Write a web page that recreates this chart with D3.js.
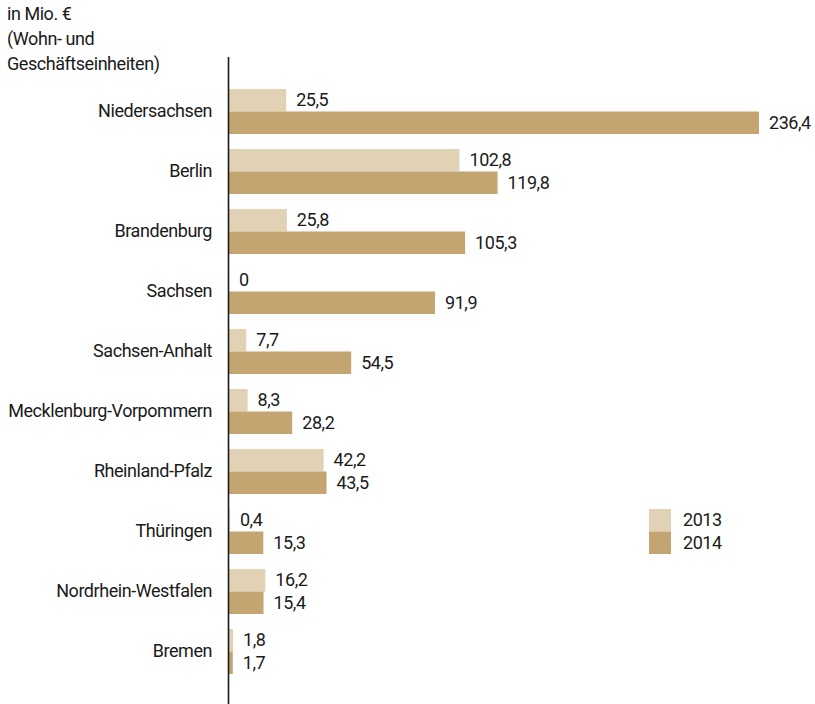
<!DOCTYPE html>
<html>
<head>
<meta charset="utf-8">
<script src="https://cdn.jsdelivr.net/npm/d3@7"></script>
<style>
body { margin: 0; background: #fff; }
text { font-family: "Roboto", sans-serif; font-size: 18px; letter-spacing: -0.45px; fill: #1a1a1a; }
</style>
</head>
<body>
<svg id="canvas" width="815" height="704"></svg>
<script>
// data
var states = ["Niedersachsen", "Berlin", "Brandenburg", "Sachsen", "Sachsen-Anhalt",
              "Mecklenburg-Vorpommern", "Rheinland-Pfalz", "Thüringen", "Nordrhein-Westfalen", "Bremen"];
var years = ["2013", "2014"];
var values2013 = [25.5, 102.8, 25.8, 0, 7.7, 8.3, 42.2, 0.4, 16.2, 1.8];
var values2014 = [236.4, 119.8, 105.3, 91.9, 54.5, 28.2, 43.5, 15.3, 15.4, 1.7];
var titleLines = ["in Mio. €", "(Wohn- und", "Geschäftseinheiten)"];
var colors = { "2013": "#e1d1b5", "2014": "#c3a571" };

var svg = d3.select("#canvas");

var data = states.map(function(s, i) {
    return { state: s, "2013": values2013[i], "2014": values2014[i] };
});

var x = d3.scaleLinear().domain([0, 236.4]).range([229, 759]);
var y = d3.scaleBand().domain(states).range([81.5, 681.5]).paddingInner(0.25).paddingOuter(0.125);
var yInner = d3.scaleBand().domain(years).range([0, y.bandwidth()]);

var fmt = function(v) { return String(v).replace(".", ","); };

// title
svg.append("text")
   .attr("x", 7).attr("y", 20)
   .selectAll("tspan").data(titleLines).enter()
   .append("tspan")
   .attr("x", 7)
   .attr("dy", function(d, i) { return i == 0 ? 0 : 25; })
   .text(function(d) { return d; });

// bars
var rows = svg.append("g").selectAll("g").data(data).enter()
   .append("g")
   .attr("transform", function(d) { return "translate(0," + y(d.state) + ")"; });

rows.selectAll("rect").data(function(d) { return years.map(function(k) { return { year: k, v: d[k] }; }); })
   .enter().append("rect")
   .attr("x", x(0))
   .attr("y", function(d) { return yInner(d.year); })
   .attr("width", function(d) { return x(d.v) - x(0); })
   .attr("height", yInner.bandwidth())
   .style("fill", function(d) { return colors[d.year]; });

rows.selectAll("text.val").data(function(d) { return years.map(function(k) { return { year: k, v: d[k] }; }); })
   .enter().append("text")
   .attr("class", "val")
   .attr("x", function(d) { return x(d.v) + 10; })
   .attr("y", function(d) { return yInner(d.year) + yInner.bandwidth() / 2; })
   .attr("dy", "0.33em")
   .text(function(d) { return fmt(d.v); });

// category axis
var yAxis = d3.axisLeft(y).tickSize(0).tickPadding(16);
svg.append("g")
   .attr("transform", "translate(228,0)")
   .call(yAxis)
   .call(function(g) {
       g.select(".domain").remove();
       g.attr("font-size", null).attr("font-family", null);
       g.selectAll("text").attr("dy", "0.30em");
   });

svg.append("line")
   .attr("x1", 228.5).attr("x2", 228.5)
   .attr("y1", 57).attr("y2", 704)
   .style("stroke", "#1a1a1a").style("stroke-width", 1.6);

// legend
var legend = svg.append("g").selectAll("g").data(years).enter()
   .append("g")
   .attr("transform", function(d, i) { return "translate(649," + (509 + i * 22.5) + ")"; });
legend.append("rect").attr("width", 22).attr("height", 22.5)
   .style("fill", function(d) { return colors[d]; });
legend.append("text").attr("x", 34).attr("y", 11.5).attr("dy", "0.33em")
   .text(function(d) { return d; });
</script>
</body>
</html>
